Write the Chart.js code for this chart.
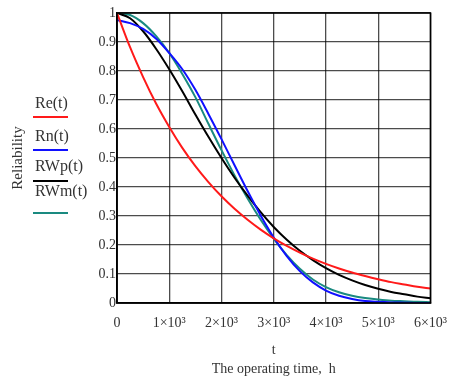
<!DOCTYPE html>
<html lang="en">
<head>
<meta charset="UTF-8">
<title>Reliability vs operating time</title>
<style>
    body {
        margin: 0;
        padding: 0;
        background: #fff;
    }
    #wrap {
        width: 459px;
        height: 380px;
    }
</style>
</head>
<body>
<div id="wrap"><canvas id="relChart" width="459" height="380"></canvas></div>

<script src="https://cdn.jsdelivr.net/npm/chart.js"></script>
<script>
    // operating time, h
    const hours = [0, 250, 500, 750, 1000, 1250, 1500, 1750, 2000, 2250, 2500, 2750, 3000,
                   3250, 3500, 3750, 4000, 4250, 4500, 4750, 5000, 5250, 5500, 5750, 6000];

    // reliability curves
    const re = [1.0, 0.882, 0.779, 0.687, 0.607, 0.535, 0.472, 0.417, 0.368, 0.325, 0.287, 0.253, 0.223,
                0.197, 0.174, 0.153, 0.135, 0.119, 0.105, 0.093, 0.082, 0.072, 0.064, 0.056, 0.050];
    const rn = [0.976, 0.965, 0.945, 0.911, 0.862, 0.806, 0.735, 0.652, 0.565, 0.475, 0.386, 0.302, 0.226,
                0.162, 0.11, 0.071, 0.043, 0.025, 0.014, 0.007, 0.004, 0.002, 0.001, 0.0, 0.0];
    const rwp = [1.0, 0.982, 0.937, 0.876, 0.806, 0.73, 0.65, 0.573, 0.5, 0.432, 0.37, 0.313, 0.262,
                 0.218, 0.18, 0.148, 0.12, 0.097, 0.078, 0.062, 0.049, 0.038, 0.03, 0.022, 0.016];
    const rwm = [1.0, 0.993, 0.965, 0.92, 0.862, 0.79, 0.71, 0.618, 0.527, 0.44, 0.36, 0.287, 0.222,
                 0.165, 0.118, 0.081, 0.055, 0.037, 0.025, 0.017, 0.012, 0.008, 0.006, 0.004, 0.003];

    const seriesNames = ['Re(t)', 'Rn(t)', 'RWp(t)', 'RWm(t)'];
    const seriesColors = ['#ff1a1a', '#1010ff', '#000000', '#1a8a80'];

    // tick labels
    const xTickLabels = ['0', '1×10³', '2×10³', '3×10³', '4×10³', '5×10³', '6×10³'];
    const yTickLabels = ['0', '0.1', '0.2', '0.3', '0.4', '0.5', '0.6', '0.7', '0.8', '0.9', '1'];

    const toPoints = (vals) => hours.map((h, i) => ({ x: h, y: vals[i] }));

    const serif = 'Liberation Serif, Times New Roman, serif';
    const textColor = '#333';

    // legend: name above a short coloured line, left of the y title
    const legendSpots = [
        { textY: 104, lineY: 117 },
        { textY: 137, lineY: 150 },
        { textY: 167, lineY: 181 },
        { textY: 192, lineY: 213 }
    ];

    const sideLegend = {
        id: 'sideLegend',
        afterDraw(chart) {
            const ctx = chart.ctx;
            ctx.save();
            // frame round the plot
            const a = chart.chartArea;
            ctx.strokeStyle = '#000';
            ctx.lineWidth = 1.6;
            ctx.strokeRect(a.left, a.top, a.right - a.left, a.bottom - a.top);

            ctx.font = '16px ' + serif;
            ctx.textBaseline = 'middle';
            ctx.textAlign = 'left';
            chart.data.datasets.forEach((ds, i) => {
                const spot = legendSpots[i];
                ctx.fillStyle = textColor;
                ctx.fillText(ds.label, 35, spot.textY);
                ctx.strokeStyle = ds.borderColor;
                ctx.lineWidth = 2.2;
                ctx.beginPath();
                ctx.moveTo(33, spot.lineY);
                ctx.lineTo(68, spot.lineY);
                ctx.stroke();
            });
            ctx.restore();
        }
    };

    const gridStyle = {
        color: 'rgba(0, 0, 0, 0.7)',
        lineWidth: 1.3,
        drawTicks: false
    };

    new Chart(document.getElementById('relChart'), {
        type: 'line',
        data: {
            datasets: [
                { label: seriesNames[0], data: toPoints(re), borderColor: seriesColors[0] },
                { label: seriesNames[1], data: toPoints(rn), borderColor: seriesColors[1] },
                { label: seriesNames[2], data: toPoints(rwp), borderColor: seriesColors[2] },
                { label: seriesNames[3], data: toPoints(rwm), borderColor: seriesColors[3] }
            ]
        },
        options: {
            responsive: false,
            animation: false,
            elements: {
                point: { radius: 0 },
                line: { borderWidth: 2, cubicInterpolationMode: 'monotone', fill: false }
            },
            layout: { padding: { top: 13, right: 23, left: 0, bottom: 0 } },
            plugins: {
                legend: { display: false },
                tooltip: { enabled: false }
            },
            scales: {
                x: {
                    type: 'linear',
                    min: 0,
                    max: 6000,
                    afterFit: (scale) => { scale.height = 77; },
                    grid: gridStyle,
                    border: { display: true, color: '#000', width: 1.6 },
                    ticks: {
                        stepSize: 1000,
                        padding: 12,
                        maxRotation: 0,
                        color: textColor,
                        font: { family: serif, size: 14 },
                        callback: (v) => xTickLabels[Math.round(v / 1000)]
                    },
                    title: {
                        display: true,
                        text: ['t', 'The operating time,  h'],
                        color: textColor,
                        font: { family: serif, size: 14, lineHeight: 1.3 },
                        padding: { top: 0, bottom: 2 }
                    }
                },
                y: {
                    min: 0,
                    max: 1,
                    afterFit: (scale) => { scale.width = 117; },
                    grid: gridStyle,
                    border: { display: true, color: '#000', width: 1.6 },
                    ticks: {
                        stepSize: 0.1,
                        padding: 1,
                        color: textColor,
                        font: { family: serif, size: 14 },
                        callback: (v) => yTickLabels[Math.round(v * 10)]
                    },
                    title: {
                        display: true,
                        text: 'Reliability',
                        color: textColor,
                        font: { family: serif, size: 15 },
                        padding: { top: 9, bottom: 0 }
                    }
                }
            }
        },
        plugins: [sideLegend]
    });
</script>
</body>
</html>
